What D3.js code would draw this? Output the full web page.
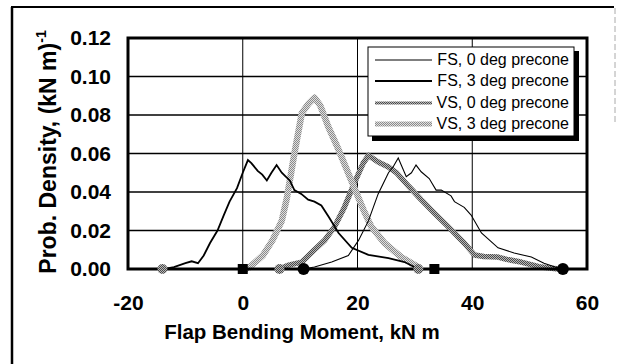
<!DOCTYPE html>
<html>
<head>
<meta charset="utf-8">
<script src="https://cdn.jsdelivr.net/npm/d3@7"></script>
<style>
  body { margin: 0; background: #fff; }
  svg { display: block; font-family: Arial, "Liberation Sans", sans-serif; }
</style>
</head>
<body>
<svg id="chart" width="617" height="364"></svg>
<script>
// ---------- DATA ----------
const fs3X = [-13.6, -12, -11, -10, -8.9, -7.8, -6.8, -5.7, -4.4, -3.3, -2.3, -1.0, 0, 0.9, 1.5, 2.6, 3.4, 4.2, 5.0, 5.9, 6.8, 7.5, 8.2, 9.0, 10.2, 11.4, 12.5, 13.7, 15, 16.7, 19, 21.9, 25.4, 28.2, 30.6];
const fs3Y = [0, 0.001, 0.002, 0.003, 0.004, 0.003, 0.007, 0.0135, 0.020, 0.028, 0.035, 0.042, 0.050, 0.0566, 0.055, 0.051, 0.049, 0.046, 0.050, 0.054, 0.050, 0.048, 0.046, 0.041, 0.039, 0.036, 0.035, 0.033, 0.027, 0.0187, 0.011, 0.0073, 0.0057, 0.0036, 0];

const fs0X = [10.6, 12.5, 15.5, 18.4, 20.2, 21.9, 23.6, 25.4, 26.2, 27.1, 28.5, 29.4, 30.2, 31.1, 32.5, 33.7, 34.6, 36.3, 36.9, 38.6, 39.8, 41.6, 44.5, 47.3, 50.3, 52.5, 55.5];
const fs0Y = [0, 0.001, 0.0036, 0.007, 0.015, 0.025, 0.039, 0.050, 0.053, 0.0577, 0.048, 0.050, 0.054, 0.0505, 0.047, 0.041, 0.041, 0.038, 0.035, 0.032, 0.028, 0.0187, 0.011, 0.0083, 0.0062, 0.003, 0];

const vs3X = [0.5, 1.2, 3.5, 5.2, 6.8, 7.7, 9.0, 10.3, 11.5, 12.5, 13.5, 14.9, 16.7, 18.5, 21, 22.4, 24.7, 27.6, 30.6];
const vs3Y = [0, 0.001, 0.007, 0.015, 0.025, 0.037, 0.060, 0.081, 0.086, 0.089, 0.085, 0.074, 0.062, 0.049, 0.031, 0.022, 0.0135, 0.0062, 0.001];

const vs0X = [6.4, 8, 10.3, 12.5, 14.3, 16, 17.7, 19.5, 21, 21.9, 23.6, 25.4, 26.8, 28.9, 31.1, 33.4, 35.8, 38.6, 40.4, 42, 44.5, 46, 48.5, 52, 55];
const vs0Y = [0, 0.002, 0.0036, 0.010, 0.015, 0.022, 0.032, 0.045, 0.055, 0.059, 0.0556, 0.053, 0.050, 0.043, 0.036, 0.029, 0.022, 0.0135, 0.0073, 0.0065, 0.0062, 0.005, 0.0036, 0.001, 0];

// end markers on the zero line
const greyMarkX = [-14, 6.4, 30.6];
const squareMarkX = [0, 33.4];
const dotMarkX = [10.6, 55.8];

const xTicks = [-20, 0, 20, 40, 60];
const yTicks = [0, 0.02, 0.04, 0.06, 0.08, 0.10, 0.12];
const legendLabels = ["FS, 0 deg precone", "FS, 3 deg precone", "VS, 0 deg precone", "VS, 3 deg precone"];

// ---------- SETUP ----------
const svg = d3.select("#chart");
const plotL = 128, plotT = 38, plotR = 587, plotB = 269;

const x = d3.scaleLinear().domain([-20, 60]).range([plotL, plotR]);
const y = d3.scaleLinear().domain([0, 0.12]).range([plotB, plotT]);

const defs = svg.append("defs");
function stipple(id, bg, dot) {
  const p = defs.append("pattern").attr("id", id)
    .attr("width", 2).attr("height", 2).attr("patternUnits", "userSpaceOnUse");
  p.append("rect").attr("width", 2).attr("height", 2).attr("fill", bg);
  p.append("rect").attr("width", 1).attr("height", 1).attr("fill", dot);
  p.append("rect").attr("x", 1).attr("y", 1).attr("width", 1).attr("height", 1).attr("fill", dot);
}
stipple("vs0", "#b8b8b8", "#4a4a4a");
stipple("vs3", "#e0e0e0", "#8a8a8a");

// outer frame
svg.append("line").attr("x1", 12).attr("x2", 12).attr("y1", 7).attr("y2", 364)
  .attr("stroke", "#000").attr("stroke-width", 2.5);
svg.append("line").attr("x1", 11).attr("x2", 614).attr("y1", 7).attr("y2", 7)
  .attr("stroke", "#000").attr("stroke-width", 2);
svg.append("line").attr("x1", 615).attr("x2", 615).attr("y1", 8).attr("y2", 125)
  .attr("stroke", "#aaa").attr("stroke-width", 1).attr("stroke-dasharray", "6,3");

// ---------- GRID ----------
svg.append("g").selectAll("line")
  .data(yTicks.filter(d => d > 0 && d < 0.12))
  .join("line")
  .attr("x1", plotL).attr("x2", plotR)
  .attr("y1", d => y(d)).attr("y2", d => y(d))
  .attr("stroke", "#000").attr("stroke-width", 1.5);

svg.append("g").selectAll("line")
  .data(xTicks.filter(d => d > -20 && d < 60))
  .join("line")
  .attr("x1", d => x(d)).attr("x2", d => x(d))
  .attr("y1", plotT).attr("y2", plotB)
  .attr("stroke", "#000").attr("stroke-width", 1);

// ---------- CURVES ----------
const line = d3.line().x(d => x(d[0])).y(d => y(d[1]));
const zip = (xs, ys) => xs.map((v, i) => [v, ys[i]]);

svg.append("path").datum(zip(vs0X, vs0Y)).attr("d", line)
  .attr("fill", "none").attr("stroke", "url(#vs0)").attr("stroke-width", 5.5)
  .attr("stroke-linejoin", "round");
svg.append("path").datum(zip(vs3X, vs3Y)).attr("d", line)
  .attr("fill", "none").attr("stroke", "url(#vs3)").attr("stroke-width", 6.5)
  .attr("stroke-linejoin", "round");
svg.append("path").datum(zip(fs3X, fs3Y)).attr("d", line)
  .attr("fill", "none").attr("stroke", "#000").attr("stroke-width", 1.8);
svg.append("path").datum(zip(fs0X, fs0Y)).attr("d", line)
  .attr("fill", "none").attr("stroke", "#000").attr("stroke-width", 1.1);

// ---------- PLOT FRAME ----------
svg.append("rect").attr("x", plotL).attr("y", plotT)
  .attr("width", plotR - plotL).attr("height", plotB - plotT)
  .attr("fill", "none").attr("stroke", "#000").attr("stroke-width", 3);

// ---------- MARKERS ----------
svg.append("g").selectAll("circle")
  .data(greyMarkX).join("circle")
  .attr("cx", d => x(d)).attr("cy", y(0)).attr("r", 5)
  .attr("fill", "url(#vs0)");
svg.append("g").selectAll("rect")
  .data(squareMarkX).join("rect")
  .attr("x", d => x(d) - 5).attr("y", y(0) - 5)
  .attr("width", 10).attr("height", 10).attr("fill", "#000");
svg.append("g").selectAll("circle")
  .data(dotMarkX).join("circle")
  .attr("cx", d => x(d)).attr("cy", y(0)).attr("r", 6)
  .attr("fill", "#000");

// ---------- AXES ----------
const yAxis = svg.append("g")
  .attr("transform", `translate(${plotL},0)`)
  .call(d3.axisLeft(y).tickValues(yTicks).tickFormat(d3.format(".2f")).tickSize(0).tickPadding(17));
yAxis.select(".domain").remove();
yAxis.selectAll("text").attr("font-size", 21).attr("font-weight", "bold")
  .attr("font-family", "Arial, 'Liberation Sans', sans-serif").attr("fill", "#000");

const xAxis = svg.append("g")
  .attr("transform", `translate(0,${plotB})`)
  .call(d3.axisBottom(x).tickValues(xTicks).tickFormat(d => String(d)).tickSize(0).tickPadding(26));
xAxis.select(".domain").remove();
xAxis.selectAll("text").attr("font-size", 21).attr("font-weight", "bold")
  .attr("font-family", "Arial, 'Liberation Sans', sans-serif").attr("fill", "#000");

// axis titles
svg.append("text")
  .attr("x", 302).attr("y", 339)
  .attr("text-anchor", "middle")
  .attr("font-size", 20.5).attr("font-weight", "bold")
  .text("Flap Bending Moment, kN m");

const yTitle = svg.append("text")
  .attr("transform", "translate(56,152) rotate(-90)")
  .attr("text-anchor", "middle")
  .attr("font-size", 23).attr("font-weight", "bold");
yTitle.append("tspan").text("Prob. Density, (kN m)");
yTitle.append("tspan").attr("dy", -10).attr("font-size", 14).text("-1");

// ---------- LEGEND ----------
const lg = svg.append("g");
lg.append("rect").attr("x", 372).attr("y", 51).attr("width", 207).attr("height", 90).attr("fill", "#000");
lg.append("rect").attr("x", 368).attr("y", 47).attr("width", 206).attr("height", 89)
  .attr("fill", "#fff").attr("stroke", "#000").attr("stroke-width", 1);

const legendStyles = [
  { stroke: "#000", width: 1.1 },
  { stroke: "#000", width: 2.2 },
  { stroke: "url(#vs0)", width: 3 },
  { stroke: "url(#vs3)", width: 5 }
];
const rowY = [60, 81, 103, 124];

legendLabels.forEach((label, i) => {
  lg.append("line")
    .attr("x1", 375).attr("x2", 432)
    .attr("y1", rowY[i]).attr("y2", rowY[i])
    .attr("stroke", legendStyles[i].stroke).attr("stroke-width", legendStyles[i].width);
  lg.append("text")
    .attr("x", 569).attr("y", rowY[i] + 5)
    .attr("text-anchor", "end")
    .attr("font-size", 16)
    .text(label);
});
</script>
</body>
</html>
